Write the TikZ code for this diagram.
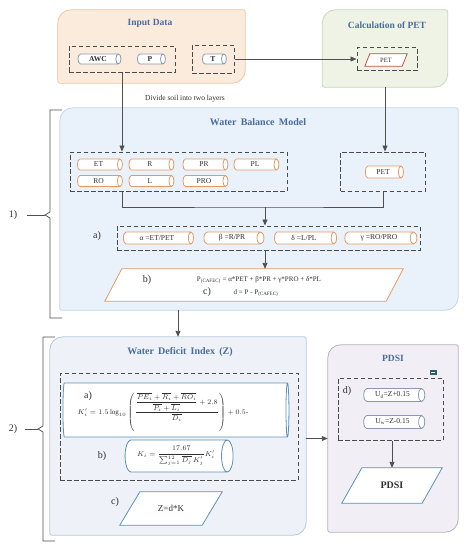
\documentclass[tikz,border=0pt]{standalone}
\usepackage{amsmath}
\usepackage{fontspec}
\setmainfont{Liberation Serif}
\usetikzlibrary{shapes.geometric,arrows.meta,calc}
\definecolor{inpfill}{HTML}{FBEBDD}
\definecolor{inpdraw}{HTML}{F3C6A3}
\definecolor{petfill}{HTML}{EEF3E5}
\definecolor{petdraw}{HTML}{C9D6B9}
\definecolor{wbmfill}{HTML}{E9F1FA}
\definecolor{wbmdraw}{HTML}{C2D6EC}
\definecolor{wdifill}{HTML}{EEF2F8}
\definecolor{wdidraw}{HTML}{B8C8DA}
\definecolor{pdsifill}{HTML}{F1EFF5}
\definecolor{pdsidraw}{HTML}{B5B2BE}
\definecolor{titlec}{HTML}{4A6C9B}
\definecolor{ocyl}{HTML}{E59A66}
\definecolor{gcyl}{HTML}{8A99B0}
\definecolor{bcyl}{HTML}{5D91B5}
\definecolor{redc}{HTML}{C0504D}
\definecolor{dashc}{HTML}{4A4A4A}
\definecolor{linec}{HTML}{505050}
\definecolor{txtc}{HTML}{303030}
\definecolor{iconc}{HTML}{2F5F6F}
\newcommand\drawcontainer[3]{%
  \draw[fill=#2, draw=#3, line width=0.8pt]
    (#1.north) [rounded corners=2pt] -| (#1.east)
    [rounded corners=13pt] |- (#1.south)
    [rounded corners=2pt] -| (#1.west)
    [rounded corners=13pt] |- (#1.north);
}
\newcommand\drawpara[3]{% name, offset, colour
  \draw[draw=#3, fill=white, line width=0.8pt]
    (#1.south west) -- ($(#1.north west)+(#2,0)$) -- (#1.north east)
    -- ($(#1.south east)-(#2,0)$) -- cycle;
}
% cylinder: minimum height = length along axis, minimum width = diameter
\tikzset{
  box/.style={draw=none, rectangle, inner sep=0pt},
  dbox/.style={draw=dashc, dash pattern=on 4.5pt off 2.5pt, line width=1pt, rectangle, inner sep=0pt},
  cyl/.style={cylinder, shape aspect=1.0, draw=#1, fill=white, line width=0.8pt, inner sep=0pt, text=txtc, font=\fontsize{7.5}{8}\selectfont},
  ttl/.style={font=\bfseries\fontsize{9.5}{11}\selectfont, text=titlec},
  lab/.style={font=\fontsize{10}{12}\selectfont, text=txtc},
  arr/.style={draw=linec, line width=0.9pt, -{Triangle[length=6pt,width=5pt]}},
  ln/.style={draw=linec, line width=0.9pt},
}
\begin{document}
\begin{tikzpicture}[x=1pt,y=-1pt]
\useasboundingbox[fill=white] (0,0) rectangle (468,550);

% ---------- Input Data ----------
\node[box, minimum width=187pt, minimum height=73pt] (inp) at (151.5,46.5) {};
\drawcontainer{inp}{inpfill}{inpdraw}
\node[ttl] (inpt) at (150,23) {Input Data};
\node[dbox, minimum width=106pt, minimum height=26pt] (awcp) at (122,59) {};
\node[cyl=gcyl, minimum height=43pt, minimum width=10pt] (awc) at (98,59) {\textbf{AWC}};
\node[cyl=gcyl, minimum height=28pt, minimum width=10pt] (p) at (150,59) {\textbf{P}};
\node[dbox, minimum width=42pt, minimum height=28pt] (tbox) at (213,59) {};
\node[cyl=gcyl, minimum height=24pt, minimum width=10pt] (t) at (213,59) {\textbf{T}};

% ---------- Calculation of PET ----------
\node[box, minimum width=125pt, minimum height=77pt] (calc) at (385,48.5) {};
\drawcontainer{calc}{petfill}{petdraw}
\node[ttl] (calct) at (387,25) {Calculation of PET};
\node[dbox, minimum width=60pt, minimum height=23pt] (petbox) at (387,59) {};
\node[box, minimum width=42pt, minimum height=12pt] (petp) at (386,60) {};
\drawpara{petp}{5pt}{redc}
\node[text=txtc, font=\fontsize{6.5}{7}\selectfont] (petpt) at (petp) {PET};

\draw[arr] (tbox.east) -- (petbox.west);

% ---------- Water Balance Model ----------
\node[box, minimum width=398pt, minimum height=202pt] (wbm) at (259,209) {};
\drawcontainer{wbm}{wbmfill}{wbmdraw}
\node[ttl, font=\bfseries\fontsize{10}{12}\selectfont] (wbmt) at (258,122) {Water\, Balance\, Model};
\node[font=\fontsize{7.5}{9}\selectfont, text=txtc] (divide) at (185,99) {Divide soil into two layers};

\node[dbox, minimum width=217pt, minimum height=39pt] (vars) at (178.5,171.5) {};
\foreach \nm/\tx/\xx/\yy in {et/ET/98.5/164.5, r/R/150/164.5, pr/PR/204/164.5, pl/PL/255/164.5,
  ro/RO/98.5/181, l/L/150/181, pro/PRO/204/181}
  \node[cyl=ocyl, minimum height=45pt, minimum width=11pt] (\nm) at (\xx,\yy) {\tx};
\node[dbox, minimum width=85pt, minimum height=39pt] (pet2) at (383,171.5) {};
\node[cyl=ocyl, minimum height=38pt, minimum width=12pt] (petc) at (383,172) {PET};

\draw[arr] (awcp.south) -- (awcp.south |- vars.north);
\draw[arr] (calc.south) -- (calc.south |- pet2.north);

\node[dbox, minimum width=303pt, minimum height=24pt] (abox) at (268.5,238) {};
\node[lab] (la) at (97,236) {a)};
\node[cyl=ocyl, minimum height=70pt, minimum width=12pt] (alpha) at (157,238) {α =ET/PET};
\node[cyl=ocyl, minimum height=60pt, minimum width=12pt] (beta) at (232,238) {β =R/PR};
\node[cyl=ocyl, minimum height=62pt, minimum width=12pt] (delta) at (304,238) {δ =L/PL};
\node[cyl=ocyl, minimum height=72pt, minimum width=12pt] (gamma) at (379,238) {γ =RO/PRO};

\coordinate (jn) at (265,207);
\draw[ln] (awcp.south |- vars.south) |- (jn) -| (pet2.south);
\draw[arr] (jn) -- (jn |- abox.north);

\node[box, minimum width=298pt, minimum height=32pt] (pc) at (254,285) {};
\drawpara{pc}{17pt}{ocyl}
\draw[arr] (abox.south -| jn) -- (jn |- pc.north);
\node[lab] (lb) at (147,280) {b)};
\node[font=\fontsize{7}{8}\selectfont, text=txtc] (eqb) at (259,280) {P\textsubscript{(CAFEC)} = α*PET + β*PR + γ*PRO + δ*PL};
\node[lab] (lc) at (207,292) {c)};
\node[font=\fontsize{7}{8}\selectfont, text=txtc] (eqc) at (256,293) {d = P - P\textsubscript{(CAFEC)}};

% ---------- braces ----------
\node[lab] (one) at (13,215) {1)};
\coordinate (b1) at (45,215);
\draw[ln, line width=0.7pt] (62,110) -- (50,110) -- (50,212) -- (b1) -- (50,218) -- (50,318) -- (62,318);
\draw[ln, line width=0.7pt] (one.east) ++(6pt,0) -- (b1);

\node[lab] (two) at (13,429) {2)};
\coordinate (b2) at (38,429);
\draw[ln, line width=0.7pt] (55,337) -- (43,337) -- (43,426) -- (b2) -- (43,432) -- (43,541) -- (55,541);
\draw[ln, line width=0.7pt] (two.east) ++(4pt,0) -- (b2);

% ---------- Water Deficit Index ----------
\node[box, minimum width=256pt, minimum height=198pt] (wdi) at (178,436) {};
\drawcontainer{wdi}{wdifill}{wdidraw}
\node[ttl, font=\bfseries\fontsize{10}{12}\selectfont] (wdit) at (180,352) {Water\, Deficit\, Index\, (Z)};
\draw[arr] (wbm.south -| wdi.north) -- (wdi.north);

\node[dbox, minimum width=238pt, minimum height=107pt] (kbox) at (179,426.5) {};
\node[cyl=bcyl, shape aspect=0.6, minimum height=226pt, minimum width=54pt] (ka) at (175,410) {\phantom{M}};
\node[text=txtc, font=\fontsize{7}{8}\selectfont] (fa) at (163,412)
  {$K_i' = 1.5\log_{10}\left(\dfrac{\dfrac{\overline{PE_i}+\overline{R_i}+\overline{RO_i}}{\overline{P_i}+\overline{L_i}}+2.8}{\overline{D_i}}\right)+0.5\text{-}$};
\node[lab] (la2) at (88,396) {a)};
\node[cyl=bcyl, shape aspect=0.6, minimum height=108pt, minimum width=32pt] (kb) at (176,456)
  {$K_i = \dfrac{17.67}{\sum_{j=1}^{12}\overline{D_j}\,K_j'}K_i'$};
\node[lab] (lb2) at (102,456) {b)};

\node[box, minimum width=102pt, minimum height=33pt] (z) at (171,508.5) {};
\drawpara{z}{20pt}{bcyl}
\node[text=txtc, font=\fontsize{9}{10}\selectfont] (zt) at (z) {Z=d*K};
\node[lab] (lc2) at (115,502) {c)};

% ---------- PDSI ----------
\node[box, minimum width=130pt, minimum height=187pt] (pdsi) at (393,438.5) {};
\drawcontainer{pdsi}{pdsifill}{pdsidraw}
\node[ttl] (pdsit) at (393,358) {PDSI};
\node[rectangle, fill=iconc, minimum width=7pt, minimum height=5pt, inner sep=0pt] (icon) at (433,372) {};
\draw[white, line width=0.5pt] ($(icon.center)+(-2pt,0)$) -- ($(icon.center)+(2pt,0)$);

\draw[arr] (pdsi.west -| wdi.east) -- (pdsi.west);

\node[dbox, minimum width=105pt, minimum height=62pt] (dbx) at (390.5,409) {};
\node[lab] (ld) at (347,391) {d)};
\node[cyl=gcyl, minimum height=61pt, minimum width=13pt] (ud) at (392.5,395) {U\textsubscript{d}=Z+0.15};
\node[cyl=gcyl, minimum height=61pt, minimum width=13pt] (uw) at (392.5,422) {U\textsubscript{w}=Z-0.15};

\node[box, minimum width=100pt, minimum height=35pt] (pd) at (392,485.5) {};
\drawpara{pd}{20pt}{bcyl}
\node[text=txtc, font=\bfseries\fontsize{10}{12}\selectfont] (pdt) at (pd) {PDSI};
\draw[arr] (dbx.south -| pd.north) -- (pd.north);
\end{tikzpicture}
\end{document}
